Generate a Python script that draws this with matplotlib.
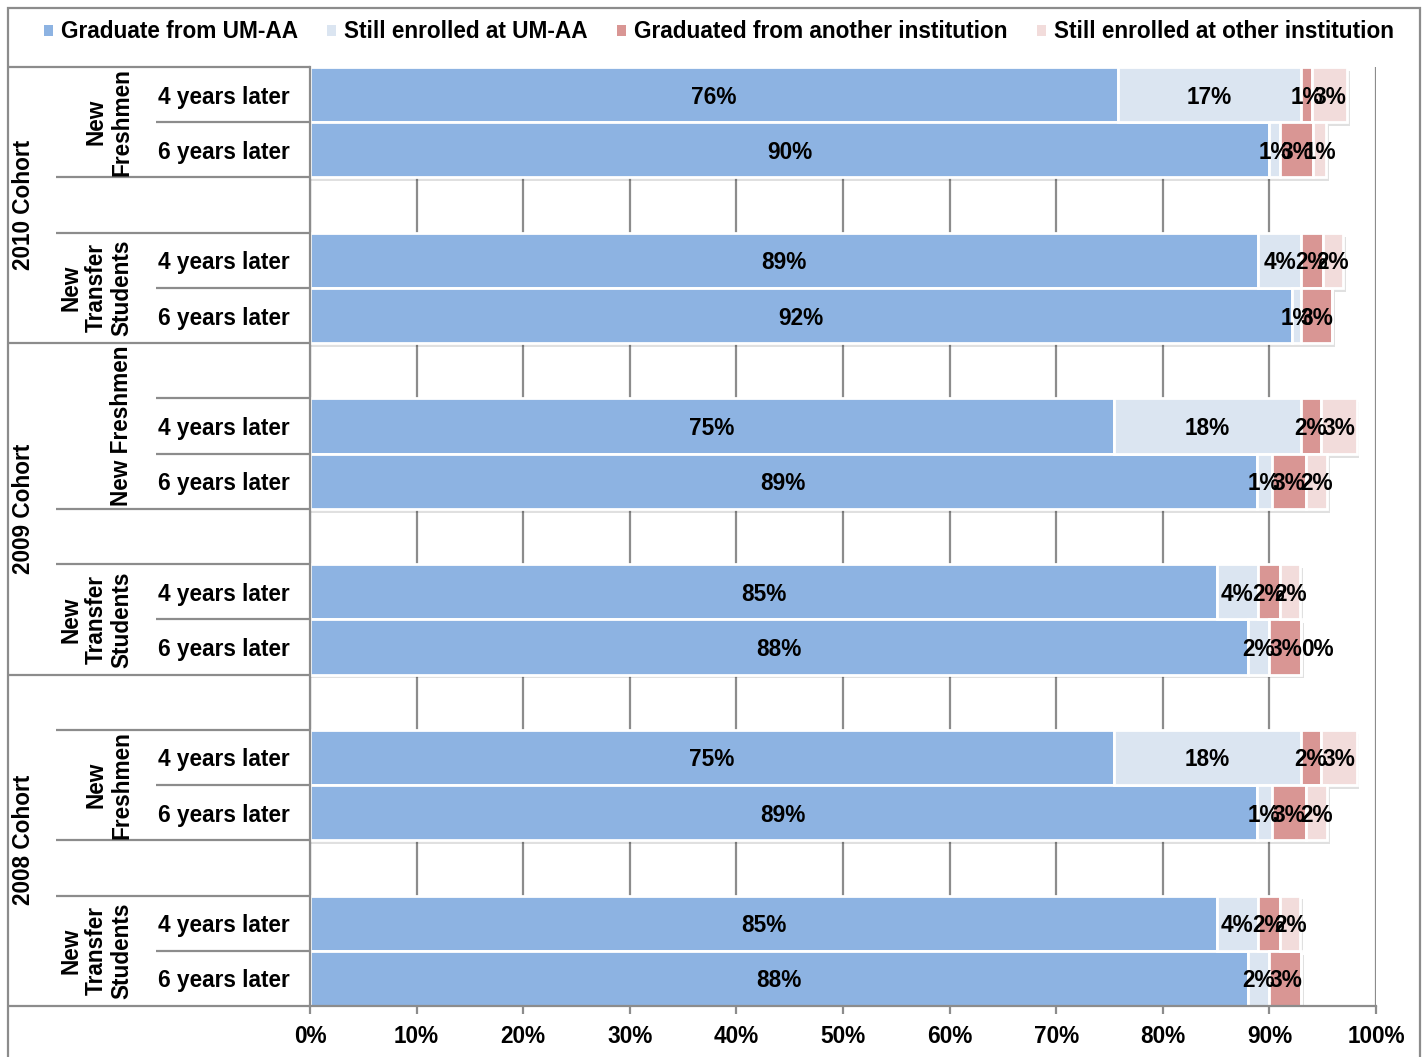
import numpy as np
import matplotlib
matplotlib.use('Agg')
import matplotlib.pyplot as plt
from matplotlib.patches import Patch, Rectangle
from matplotlib.transforms import blended_transform_factory

plt.rcParams['font.family'] = ['Liberation Sans', 'DejaVu Sans']
plt.rcParams['font.weight'] = 'bold'

# ---- data (percent of cohort) ----
series_names = ['Graduate from UM-AA', 'Still enrolled at UM-AA',
                'Graduated from another institution', 'Still enrolled at other institution']
grad_umaa   = [75.8, 90.0, 88.9, 92.1, 75.4, 88.8, 85.1, 88.0, 75.4, 88.8, 85.1, 88.0]
enr_umaa    = [17.2, 1.0, 4.1, 0.9, 17.6, 1.4, 3.8, 2.0, 17.6, 1.4, 3.8, 2.0]
grad_other  = [1.0, 3.1, 2.0, 2.9, 1.8, 3.2, 2.1, 3.0, 1.8, 3.2, 2.1, 3.0]
enr_other   = [3.3, 1.2, 1.9, np.nan, 3.4, 2.0, 1.9, 0.0, 3.4, 2.0, 1.9, np.nan]

row_labels = ['4 years later', '6 years later'] * 6
# slot index of each bar (empty slots separate the groups)
row_slots = [0, 1, 3, 4, 6, 7, 9, 10, 12, 13, 15, 16]
group_labels = ['New\nFreshmen', 'New\nTransfer\nStudents', 'New Freshmen',
                'New\nTransfer\nStudents', 'New\nFreshmen', 'New\nTransfer\nStudents']
group_centers = [0.5, 3.5, 6.0, 9.5, 12.5, 15.5]
cohort_labels = ['2010 Cohort', '2009 Cohort', '2008 Cohort']
cohort_centers = [2.0, 7.5, 13.5]
xticks = np.arange(0, 101, 10)

colors = ['#8DB3E2', '#DBE5F1', '#D99694', '#F2DCDB']
grey = '#8C8C8C'
FS = 16.3

W, H = 1428, 1057
fig = plt.figure(figsize=(W / 100, H / 100), dpi=100)
ax = fig.add_axes([310 / W, 1 - 1006 / H, 1066 / W, 939 / H])

def px(x):
    """figure pixel x -> axes fraction"""
    return (x - 310) / 1066.0

series = [np.array(s, dtype=float) for s in (grad_umaa, enr_umaa, grad_other, enr_other)]
y = np.array(row_slots, dtype=float)

# soft drop shadow behind the stacked bars
total = sum(np.nan_to_num(s) for s in series)
ax.barh(y + 0.07, total + 0.25, height=1.0, color='black', alpha=0.12,
        linewidth=0, zorder=1)

left = np.zeros(len(y))
for vals, color, name in zip(series, colors, series_names):
    w = np.nan_to_num(vals)
    ax.barh(y, w, left=left, height=1.0, color=color, edgecolor='white',
            linewidth=2, label=name, zorder=2)
    for yi, l, v in zip(y, left, vals):
        if np.isnan(v):
            continue
        if v == 0:
            ax.text(l, yi, f'{v:.0f}%', ha='left', va='center_baseline',
                    fontsize=FS, color='black', zorder=5)
        else:
            ax.text(l + v / 2, yi, f'{v:.0f}%', ha='center', va='center_baseline',
                    fontsize=FS, color='black', zorder=5)
    left = left + w

ax.set_xlim(0, 100)
ax.set_ylim(16.5, -0.5)
ax.set_xticks(xticks)
ax.set_xticklabels([f'{t}%' for t in xticks], fontsize=FS)
ax.set_yticks([])
ax.xaxis.grid(True, color=grey, linewidth=1.6, zorder=0)
ax.set_axisbelow(True)
ax.tick_params(axis='x', direction='out', length=6, width=1.6, color=grey, pad=8)
for side in ['top', 'right']:
    ax.spines[side].set_visible(False)
for side in ['left', 'bottom']:
    ax.spines[side].set_color(grey)
    ax.spines[side].set_linewidth(1.6)

# ---- category table on the left ----
tr = blended_transform_factory(ax.transAxes, ax.transData)
table_lines = [(-0.5, 8), (0.5, 156), (1.5, 56), (2.5, 56), (3.5, 156), (4.5, 8),
               (5.5, 156), (6.5, 156), (7.5, 56), (8.5, 56), (9.5, 156), (10.5, 8),
               (11.5, 56), (12.5, 156), (13.5, 56), (14.5, 56), (15.5, 156), (16.5, 8)]
for yb, x0 in table_lines:
    ax.plot([px(x0), 0], [yb, yb], color=grey, linewidth=1.6, transform=tr,
            clip_on=False, zorder=3, solid_capstyle='butt')

for lab, yi in zip(row_labels, row_slots):
    ax.text(px(158), yi, lab, transform=tr, ha='left', va='center_baseline', fontsize=FS)
for lab, yc in zip(group_labels, group_centers):
    ax.text(px(133), yc, lab, transform=tr, rotation=90, ha='right', va='center',
            multialignment='center', fontsize=FS, linespacing=1.12)
for lab, yc in zip(cohort_labels, cohort_centers):
    ax.text(px(24), yc, lab, transform=tr, rotation=90, ha='center', va='center',
            fontsize=FS)

# ---- outer border ----
fig.patches.append(Rectangle((8 / W, -0.01), 1412 / W, 1.01 - 8 / H, fill=False,
                             edgecolor=grey, linewidth=1.6, transform=fig.transFigure))

# ---- legend ----
handles = [Patch(facecolor=c, edgecolor='none') for c in colors]
fig.legend(handles, series_names, loc='center', bbox_to_anchor=(719 / W, 1 - 32 / H),
           ncol=4, frameon=False, fontsize=FS, handlelength=0.4, handleheight=0.4,
           handletextpad=0.35, columnspacing=1.3, borderpad=0, borderaxespad=0)

fig.savefig('out.png', dpi=100)
